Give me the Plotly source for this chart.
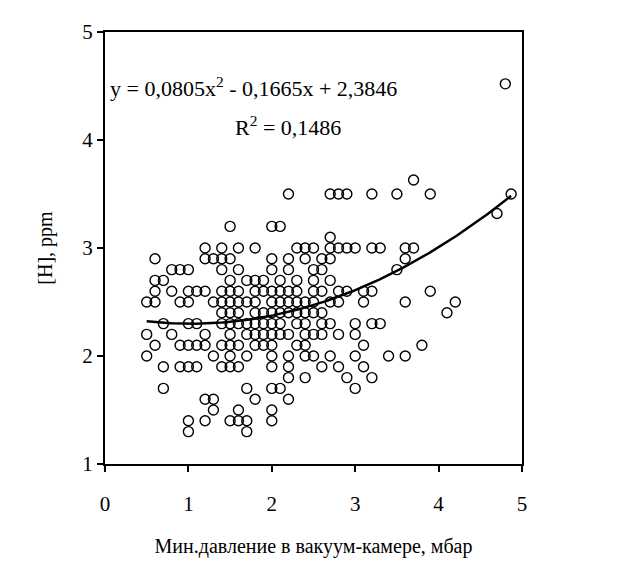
import numpy as np
import plotly.graph_objects as go

# Scatter data: (pressure, [H]) pairs, grouped by x value
x_groups = [0.5, 0.6, 0.7, 0.8, 0.9, 1.0, 1.1, 1.2, 1.3, 1.4, 1.5, 1.6, 1.7, 1.8, 1.9,
            2.0, 2.1, 2.2, 2.3, 2.4, 2.5, 2.6, 2.7, 2.8, 2.9, 3.0, 3.1, 3.2, 3.3, 3.4,
            3.5, 3.6, 3.7, 3.8, 3.9, 4.1, 4.2, 4.7, 4.8, 4.87]
y_groups = [
    [2.5, 2.2, 2.0],
    [2.9, 2.7, 2.6, 2.5, 2.1],
    [2.7, 2.3, 1.9, 1.7],
    [2.8, 2.6, 2.2],
    [2.8, 2.5, 2.1, 1.9],
    [2.8, 2.6, 2.5, 2.3, 2.1, 1.9, 1.4, 1.3],
    [2.6, 2.3, 2.1, 1.9],
    [3.0, 2.9, 2.6, 2.2, 2.1, 1.6, 1.4],
    [2.9, 2.5, 2.0, 1.6, 1.5],
    [3.0, 2.9, 2.8, 2.6, 2.5, 2.4, 2.3, 2.1, 1.9],
    [3.2, 2.9, 2.7, 2.6, 2.5, 2.4, 2.3, 2.2, 2.1, 2.0, 1.9, 1.4],
    [3.0, 2.8, 2.6, 2.5, 2.4, 2.3, 2.1, 1.9, 1.5, 1.4],
    [2.7, 2.5, 2.3, 2.2, 2.0, 1.7, 1.4, 1.3],
    [3.0, 2.7, 2.6, 2.5, 2.4, 2.3, 2.2, 2.1, 1.6],
    [2.7, 2.6, 2.4, 2.3, 2.2, 2.1],
    [3.2, 2.9, 2.8, 2.6, 2.5, 2.4, 2.3, 2.2, 2.1, 2.0, 1.9, 1.7, 1.5, 1.4],
    [3.2, 2.7, 2.6, 2.5, 2.4, 2.3, 2.2, 1.7],
    [3.5, 2.9, 2.8, 2.6, 2.5, 2.4, 2.2, 2.0, 1.9, 1.8, 1.6],
    [3.0, 2.7, 2.6, 2.5, 2.4, 2.3, 2.1],
    [3.0, 2.9, 2.5, 2.4, 2.3, 2.2, 2.1, 2.0, 1.8],
    [3.0, 2.8, 2.7, 2.6, 2.5, 2.4, 2.2, 2.0],
    [2.9, 2.8, 2.6, 2.4, 2.3, 2.2, 1.9],
    [3.5, 3.1, 3.0, 2.9, 2.7, 2.5, 2.3, 2.0],
    [3.5, 3.0, 2.6, 2.5, 2.2, 1.9],
    [3.5, 3.0, 2.6, 1.8],
    [3.0, 2.3, 2.2, 2.0, 1.7],
    [2.6, 2.5, 2.1, 1.9],
    [3.5, 3.0, 2.6, 2.3, 1.8],
    [3.0, 2.3],
    [2.0],
    [3.5, 2.8],
    [3.0, 2.9, 2.5, 2.0],
    [3.63, 3.0],
    [2.1],
    [3.5, 2.6],
    [2.4],
    [2.5],
    [3.32],
    [4.52],
    [3.5],
]

# Polynomial trend line coefficients (as printed on the chart)
coef_a, coef_b, coef_c = 0.0805, -0.1665, 2.3846
trend_x_range = [0.5, 4.87]

x_ticks = [0, 1, 2, 3, 4, 5]
y_ticks = [1, 2, 3, 4, 5]
x_title = "Мин.давление в вакуум-камере, мбар"
y_title = "[H], ppm"
eq_text = "y = 0,0805x<sup>2</sup> - 0,1665x + 2,3846"
r2_text = "R<sup>2</sup> = 0,1486"

xs, ys = [], []
for xv, yl in zip(x_groups, y_groups):
    for yv in yl:
        xs.append(xv)
        ys.append(yv)

tx = np.linspace(trend_x_range[0], trend_x_range[1], 200)
ty = coef_a * tx ** 2 + coef_b * tx + coef_c

FONT = "Liberation Serif, Times New Roman, serif"

fig = go.Figure()
fig.add_trace(go.Scatter(
    x=xs, y=ys, mode="markers",
    marker=dict(symbol="circle-open", size=10, color="black", line=dict(width=1.4, color="black")),
    showlegend=False, hoverinfo="skip",
))
fig.add_trace(go.Scatter(
    x=tx, y=ty, mode="lines", line=dict(color="black", width=2.5),
    showlegend=False, hoverinfo="skip",
))

fig.add_annotation(x=1.78, y=4.49, xref="x", yref="y", text=eq_text, showarrow=False,
                   font=dict(family=FONT, size=22, color="black"))
fig.add_annotation(x=2.2, y=4.13, xref="x", yref="y", text=r2_text, showarrow=False,
                   font=dict(family=FONT, size=22, color="black"))

fig.update_layout(
    width=623, height=566,
    margin=dict(l=97, r=109, t=14, b=110),
    paper_bgcolor="white", plot_bgcolor="white",
    font=dict(family=FONT, size=20, color="black"),
)
fig.update_xaxes(
    range=[0, 5], tickvals=x_ticks, ticktext=[str(v) for v in x_ticks],
    showgrid=False, zeroline=False, showline=True, linecolor="black", linewidth=2,
    mirror=True, ticks="outside", ticklen=6, tickwidth=2, tickcolor="black",
    ticklabelstandoff=14,
    title=dict(text=x_title, font=dict(family=FONT, size=20), standoff=24),
    tickfont=dict(family=FONT, size=21),
)
fig.update_yaxes(
    range=[1, 5], tickvals=y_ticks, ticktext=[str(v) for v in y_ticks],
    showgrid=False, zeroline=False, showline=True, linecolor="black", linewidth=2,
    mirror=True, ticks="outside", ticklen=6, tickwidth=2, tickcolor="black",
    title=dict(text=y_title, font=dict(family=FONT, size=20), standoff=24),
    tickfont=dict(family=FONT, size=21),
)

fig.write_html("out.html")
